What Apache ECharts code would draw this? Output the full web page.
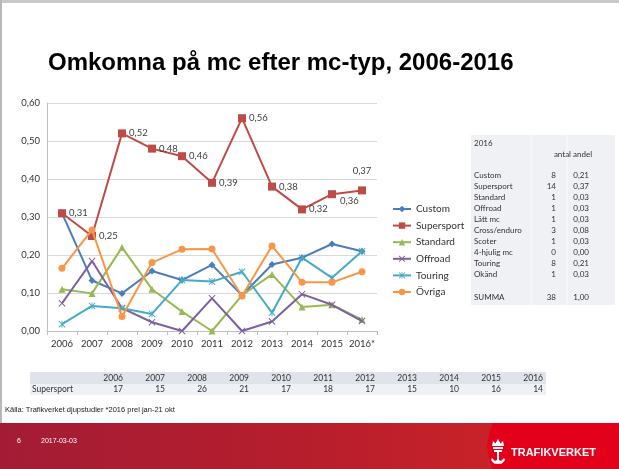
<!DOCTYPE html>
<html><head><meta charset="utf-8">
<script src="https://cdn.jsdelivr.net/npm/echarts@6/dist/echarts.min.js"></script>
<style>html,body{margin:0;padding:0;background:#fff}#c{width:619px;height:469px}</style>
</head><body><div id="c"></div>
<script>
// ---- data ----
const years = ['2006','2007','2008','2009','2010','2011','2012','2013','2014','2015','2016*'];
const custom     = [0.31, 0.133, 0.099, 0.158, 0.134, 0.174, 0.094, 0.175, 0.193, 0.229, 0.21];
const supersport = [0.31, 0.25, 0.52, 0.48, 0.46, 0.39, 0.56, 0.38, 0.32, 0.36, 0.37];
const standard   = [0.11, 0.099, 0.22, 0.11, 0.051, 0.0, 0.094, 0.149, 0.063, 0.069, 0.03];
const offroad    = [0.073, 0.184, 0.06, 0.023, 0.0, 0.086, 0.0, 0.025, 0.097, 0.069, 0.026];
const touring    = [0.018, 0.066, 0.06, 0.045, 0.134, 0.13, 0.156, 0.048, 0.193, 0.14, 0.21];
const ovriga     = [0.165, 0.266, 0.038, 0.18, 0.215, 0.216, 0.092, 0.224, 0.128, 0.128, 0.156];
const seriesNames = ['Custom','Supersport','Standard','Offroad','Touring','Övriga'];

const tableYears = ['2006','2007','2008','2009','2010','2011','2012','2013','2014','2015','2016'];
const supersportCounts = ['17','15','26','21','17','18','17','15','10','16','14'];

const typ2016   = ['Custom','Supersport','Standard','Offroad','Lätt mc','Cross/enduro','Scoter','4-hjulig mc','Touring','Okänd'];
const antal2016 = ['8','14','1','1','1','3','1','0','8','1'];
const andel2016 = ['0,21','0,37','0,03','0,03','0,03','0,08','0,03','0,00','0,21','0,03'];
const summaAntal = '38';
const summaAndel = '1,00';

const titleText = 'Omkomna på mc efter mc-typ, 2006-2016';
const sourceText = 'Källa: Trafikverket djupstudier *2016 prel jan-21 okt';

// ---- styling ----
const colors = ['#4A7EBB','#BE4B48','#98B954','#7D60A0','#46AAC5','#F79646'];
const XPATH = 'path://M0,1L1,0L10,9L9,10Z M9,0L10,1L1,10L0,9Z';
const STAR  = 'path://M0,1L1,0L10,9L9,10Z M9,0L10,1L1,10L0,9Z M4.4,0L5.6,0L5.6,10L4.4,10Z';
const symbols = ['diamond','rect','triangle',XPATH,STAR,'circle'];
const symSizes = [7,8,7,7,7,7];
const FONT = 'Lato, "Liberation Sans", sans-serif';
const ARIAL = '"Liberation Sans", Arial, sans-serif';
const fmt = v => v.toFixed(2).replace('.', ',');

const dataSets = [custom, supersport, standard, offroad, touring, ovriga];

const series = dataSets.map((d, i) => {
  const s = {
    name: seriesNames[i], type: 'line', data: d,
    symbol: symbols[i], symbolSize: symSizes[i],
    lineStyle: {width: 2, color: colors[i]},
    itemStyle: {color: colors[i]},
    emphasis: {disabled: true},
    animation: false, z: 2 + i
  };
  if (i === 1) {
    s.label = {show: true, position: 'right', distance: 3, fontSize: 9.5, color: '#404040',
      fontFamily: FONT, formatter: p => fmt(p.value)};
    s.data = d.map((v, k) => {
      if (k === 9) return {value: v, label: {position: 'right', offset: [1, 7]}};
      if (k === 10) return {value: v, label: {position: 'top', distance: 10}};
      return v;
    });
  }
  return s;
});

// ---- graphics (slide frame, tables, footer) ----
const g = [];
g.push({type:'rect', shape:{x:0,y:0,width:619,height:3}, style:{fill:'#c9c9c9'}, silent:true});
g.push({type:'rect', shape:{x:0,y:0,width:2,height:423}, style:{fill:'#b8b8b8'}, silent:true});

// bottom table
g.push({type:'rect', shape:{x:30,y:372,width:516,height:12}, style:{fill:'#dfe4ec'}, silent:true});
g.push({type:'rect', shape:{x:30,y:384,width:516,height:11}, style:{fill:'#eef1f6'}, silent:true});
g.push({type:'text', x:32, y:389.5, style:{text:'Supersport', fontSize:8.5, fontFamily:FONT, fill:'#333', verticalAlign:'middle'}, silent:true});
tableYears.forEach((y, i) => {
  const xr = 123 + i * 42;
  g.push({type:'text', x:xr, y:378, style:{text:y, fontSize:8.5, fontFamily:FONT, fill:'#333', align:'right', verticalAlign:'middle'}, silent:true});
  g.push({type:'text', x:xr, y:389.5, style:{text:supersportCounts[i], fontSize:8.5, fontFamily:FONT, fill:'#333', align:'right', verticalAlign:'middle'}, silent:true});
});

// right table
g.push({type:'rect', shape:{x:471,y:135,width:144,height:170}, style:{fill:'#eff1f4'}, silent:true});
g.push({type:'line', shape:{x1:531,y1:135,x2:531,y2:305}, style:{stroke:'#fafbfc', lineWidth:1}, silent:true});
g.push({type:'line', shape:{x1:567,y1:135,x2:567,y2:305}, style:{stroke:'#fafbfc', lineWidth:1}, silent:true});
const ts = {fontSize:8, fontFamily:FONT, fill:'#333', verticalAlign:'middle'};
g.push({type:'text', x:474, y:143, style:Object.assign({text:'2016'}, ts), silent:true});
g.push({type:'text', x:571, y:154, style:Object.assign({text:'antal', align:'right'}, ts), silent:true});
g.push({type:'text', x:573, y:154, style:Object.assign({text:'andel', align:'left'}, ts), silent:true});
typ2016.forEach((t, i) => {
  const y = 175 + i * 11;
  g.push({type:'text', x:474, y:y, style:Object.assign({text:t}, ts), silent:true});
  g.push({type:'text', x:556, y:y, style:Object.assign({text:antal2016[i], align:'right'}, ts), silent:true});
  g.push({type:'text', x:589, y:y, style:Object.assign({text:andel2016[i], align:'right'}, ts), silent:true});
});
g.push({type:'text', x:474, y:297, style:Object.assign({text:'SUMMA'}, ts), silent:true});
g.push({type:'text', x:556, y:297, style:Object.assign({text:summaAntal, align:'right'}, ts), silent:true});
g.push({type:'text', x:589, y:297, style:Object.assign({text:summaAndel, align:'right'}, ts), silent:true});

// source
g.push({type:'text', x:5, y:410, style:{text:sourceText, fontSize:7.5, fontFamily:ARIAL, fill:'#222', verticalAlign:'middle'}, silent:true});

// footer
g.push({type:'rect', shape:{x:0,y:423,width:619,height:46}, style:{fill:new echarts.graphic.LinearGradient(0,0,1,0,[{offset:0,color:'#a31c35'},{offset:0.5,color:'#b71e2c'},{offset:1,color:'#d42527'}])}, silent:true});
g.push({type:'polygon', shape:{points:[[493,423],[489,434],[487,446],[489,458],[493,469],[619,469],[619,423]]}, style:{fill:'#e3001b'}, silent:true});
g.push({type:'text', x:17, y:441, style:{text:'6', fontSize:7, fontFamily:ARIAL, fill:'#fff', verticalAlign:'middle'}, silent:true});
g.push({type:'text', x:41, y:441, style:{text:'2017-03-03', fontSize:7, fontFamily:ARIAL, fill:'#fff', verticalAlign:'middle'}, silent:true});
g.push({type:'text', x:511, y:453, style:{text:'TRAFIKVERKET', fontSize:11, fontWeight:'bold', fontFamily:ARIAL, fill:'#fff', verticalAlign:'middle'}, silent:true});
// logo icon (simplified crown + anchor)
g.push({type:'polygon', shape:{points:[[492,446],[493,441],[495.5,443.5],[498,439],[500.5,443.5],[503,441],[504,446]]}, style:{fill:'#fff'}, silent:true});
g.push({type:'rect', shape:{x:493,y:447,width:10,height:2}, style:{fill:'#fff'}, silent:true});
g.push({type:'polygon', shape:{points:[[494,450],[502,450],[502,452],[499,452],[499,460],[501,461],[504,458],[505,460],[502,463.5],[498,464],[494,463.5],[491,460],[492,458],[495,461],[497,460],[497,452],[494,452]]}, style:{fill:'#fff'}, silent:true});

const option = {
  backgroundColor: '#fff',
  animation: false,
  color: colors,
  title: {text: titleText, left: 43, top: 46,
    textStyle: {fontSize: 24, fontWeight: 'bold', color: '#000', fontFamily: ARIAL}},
  grid: {left: 47, right: 242, top: 103, bottom: 138, containLabel: false},
  legend: {orient: 'vertical', left: 387, top: 199, itemWidth: 18, itemHeight: 8, itemGap: 6.6,
    data: seriesNames, selectedMode: false,
    textStyle: {fontSize: 10, color: '#333', fontFamily: FONT}},
  xAxis: {type: 'category', data: years, boundaryGap: true,
    axisLine: {lineStyle: {color: '#bfbfbf'}},
    axisTick: {show: true, length: 4, lineStyle: {color: '#bfbfbf'}},
    axisLabel: {fontSize: 9.5, color: '#333', fontFamily: FONT, margin: 8, interval: 0}},
  yAxis: {type: 'value', min: 0, max: 0.6, interval: 0.1,
    axisLine: {show: true, lineStyle: {color: '#bfbfbf'}},
    axisTick: {show: false},
    splitLine: {lineStyle: {color: '#d9d9d9'}},
    axisLabel: {fontSize: 9.5, color: '#333', fontFamily: FONT, margin: 7, formatter: v => fmt(v)}},
  series: series,
  graphic: g
};
const chart = echarts.init(document.getElementById('c'), null, {renderer: 'canvas'});
chart.setOption(option);
</script>
</body></html>
